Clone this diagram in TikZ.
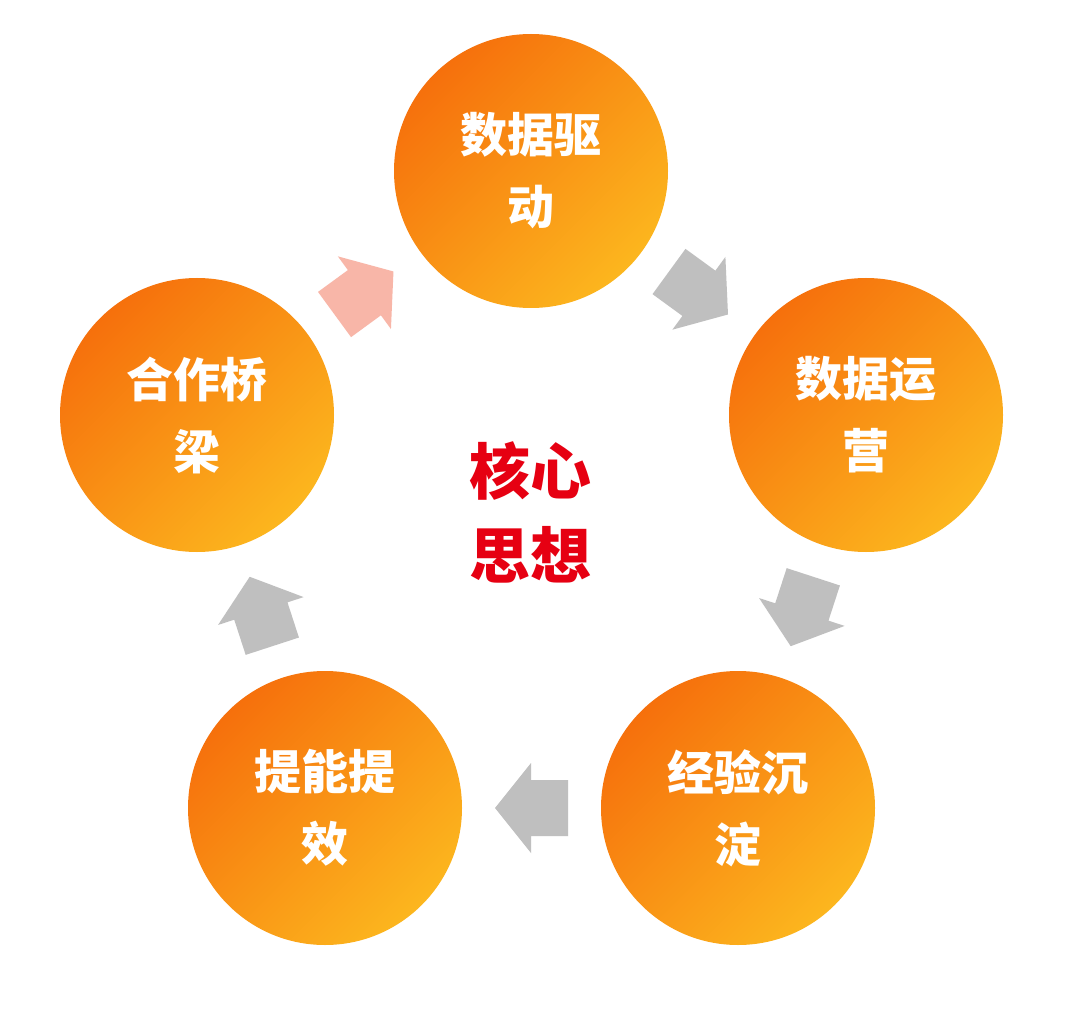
\documentclass[tikz,border=0pt]{standalone}
\usepackage{fontspec}
\newfontfamily\cjk{Noto Sans CJK SC}
\definecolor{orgA}{RGB}{246,112,12}
\definecolor{orgB}{RGB}{252,182,30}
\definecolor{arrgray}{RGB}{191,191,191}
\definecolor{arrpink}{RGB}{248,182,168}
\definecolor{corered}{RGB}{230,0,18}
\tikzset{
  circ/.style={circle, minimum size=274pt, inner sep=0pt, top color=orgA, bottom color=orgB, shading angle=45, draw=none,
    text=white, align=center, font=\cjk\bfseries\fontsize{47}{72}\selectfont},
  blockarrow/.pic={\fill[#1] (-36.5,-28) -- (0.5,-28) -- (0.5,-45) -- (36.5,0) -- (0.5,45) -- (0.5,28) -- (-36.5,28) -- cycle;}
}
\begin{document}
\begin{tikzpicture}[x=1pt,y=-1pt]
\useasboundingbox (0,0) rectangle (1080,1019);
\fill[white] (0,0) rectangle (1080,1019);
\node[circ] (top) at (531,171) {数据驱\\动};
\node[circ] (rgt) at (866,415) {数据运\\营};
\node[circ] (br) at (738,808) {经验沉\\淀};
\node[circ] (bl) at (325,808) {提能提\\效};
\node[circ] (lft) at (197,415) {合作桥\\梁};
\node[text=corered, align=center, font=\cjk\bfseries\fontsize{61}{84}\selectfont] (core) at (530,512) {核心\\思想};
\path (lft) -- pic[sloped, allow upside down, pos=0.5] {blockarrow=arrpink} (top);
\path (top) -- pic[sloped, allow upside down, pos=0.5] {blockarrow=arrgray} (rgt);
\path (rgt) -- pic[sloped, allow upside down, pos=0.5] {blockarrow=arrgray} (br);
\path (br) -- pic[sloped, allow upside down, pos=0.5] {blockarrow=arrgray} (bl);
\path (bl) -- pic[sloped, allow upside down, pos=0.5] {blockarrow=arrgray} (lft);
\end{tikzpicture}
\end{document}
